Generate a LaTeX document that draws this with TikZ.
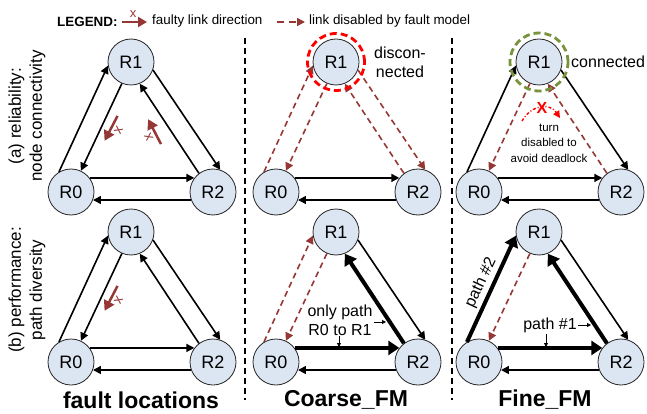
\documentclass[tikz,border=0pt]{standalone}
\usepackage{fontspec}
\setmainfont{Liberation Sans}
\usetikzlibrary{arrows.meta,calc}
\definecolor{nodefill}{HTML}{DCE6F2}
\definecolor{faultred}{HTML}{953735}
\definecolor{okgreen}{HTML}{77933C}
\newcommand{\drawtri}[7]{%
  \draw[#2] (#10.121) -- (#11.189);
  \draw[#3] (#11.247) -- (#10.65);
  \draw[#4] (#11.340) -- (#12.72);
  \draw[#5] (#12.127) -- (#11.292);
  \draw[#6] (#10.37) -- (#12.143);
  \draw[#7] (#12.200) -- (#10.340);
}
\newcommand{\faultglyph}[3]{%
  \begin{scope}[shift={(#1)},rotate=#2]
    \coordinate (#3a) at (-13,0);
    \coordinate (#3b) at (15,0);
    \draw[faultarrow] (#3a) -- (#3b);
    \node[xmark,rotate=#2] (#3x) at (-1,-7.5) {x};
  \end{scope}
}
\begin{document}
\begin{tikzpicture}[x=1pt,y=-1pt,
  router/.style={circle,draw=black!85,line width=0.8pt,fill=nodefill,minimum size=46pt,inner sep=0pt,font=\fontsize{18}{18}\selectfont},
  link/.style={draw=black,line width=1.6pt,-{Triangle[length=8pt,width=8pt]}},
  biglink/.style={draw=black,line width=4pt,-{Triangle[length=11pt,width=14pt]}},
  offlink/.style={draw=faultred,line width=1.6pt,dash pattern=on 6pt off 4pt,-{Triangle[length=8pt,width=8pt]}},
  faultarrow/.style={draw=faultred,line width=2.5pt,-{Triangle[length=10pt,width=11pt]}},
  xmark/.style={text=faultred,inner sep=0pt,font=\fontsize{14}{14}\selectfont},
  note/.style={inner sep=0pt,align=center,font=\fontsize{16}{19}\selectfont},
  small/.style={draw=black,line width=0.8pt,-{Triangle[length=4pt,width=4pt]}},
  title/.style={inner sep=0pt,font=\bfseries\fontsize{23}{23}\selectfont},
  side/.style={inner sep=0pt,rotate=90,align=center,font=\fontsize{17}{21}\selectfont},
  sep/.style={draw=black,line width=1.8pt,dash pattern=on 6pt off 4pt},
]
\useasboundingbox (0,0) rectangle (647,414);

% routers
\foreach \p/\dx/\dy in {a/0/0,b/205/0,c/408/0,d/0/170,e/205/170,f/408/170}{
  \node[router] (\p0) at (71+\dx,192+\dy) {R0};
  \node[router] (\p1) at (131+\dx,62+\dy) {R1};
  \node[router] (\p2) at (213+\dx,192+\dy) {R2};
}

% links
\drawtri{a}{link}{link}{link}{link}{link}{link}
\drawtri{b}{offlink}{offlink}{offlink}{offlink}{link}{link}
\drawtri{c}{link}{offlink}{link}{offlink}{link}{link}
\drawtri{d}{link}{link}{link}{link}{link}{link}
\drawtri{e}{offlink}{offlink}{link}{biglink}{biglink}{link}
\drawtri{f}{biglink}{offlink}{link}{biglink}{biglink}{link}

% connectivity rings
\node[circle,draw=red,line width=2.8pt,dash pattern=on 7pt off 4pt,minimum size=57pt,inner sep=0pt] (ring1) at (b1) {};
\node[circle,draw=okgreen,line width=2.8pt,dash pattern=on 7pt off 4pt,minimum size=58pt,inner sep=0pt] (ring2) at (c1) {};

% legend
\node[anchor=west,inner sep=0pt,font=\bfseries\fontsize{13.4}{14}\selectfont] (leg) at (57,22) {LEGEND:};
\coordinate (la1) at (122,22); \coordinate (la2) at (147,22);
\draw[faultarrow,line width=2.2pt,-{Triangle[length=9pt,width=10pt]}] (la1) -- (la2);
\node[xmark,font=\fontsize{13}{13}\selectfont] (lx) at (133,14) {x};
\node[anchor=west,inner sep=0pt,font=\fontsize{13.4}{14}\selectfont] (lt1) at (152,21) {faulty link direction};
\coordinate (lb1) at (277,22); \coordinate (lb2) at (305,22);
\draw[offlink,dash pattern=on 7pt off 5pt] (lb1) -- (lb2);
\node[anchor=west,inner sep=0pt,font=\fontsize{13.4}{14}\selectfont] (lt2) at (309,21) {link disabled by fault model};

% faulty link markers
\faultglyph{111.5,127.5}{242.5}{fa}
\faultglyph{155,132.5}{117.3}{fb}
\faultglyph{111.5,297.5}{242.5}{fc}

% separators
\coordinate (s1a) at (245,38); \coordinate (s1b) at (245,400);
\coordinate (s2a) at (452,38); \coordinate (s2b) at (452,400);
\draw[sep] (s1a) -- (s1b);
\draw[sep] (s2a) -- (s2b);

% side labels
\node[side] (rowa) at (27,116) {(a) reliability:\\node connectivity};
\node[side] (rowb) at (27,290) {(b) performance:\\path diversity};

% titles
\node[title] (t1) at (141,400) {fault locations};
\node[title] (t2) at (346,400) {Coarse\_FM};
\node[title] (t3) at (545,400) {Fine\_FM};

% notes top
\node[note] (disc) at (400,62) {discon-\\nected};
\node[note,anchor=west] (conn) at (571,62) {connected};
\node[inner sep=0pt,align=center,font=\fontsize{11.5}{15.5}\selectfont] (turn) at (549,143) {turn\\disabled to\\avoid deadlock};
\coordinate (tdA) at (522,121); \coordinate (tdB) at (560,118);
\draw[red,line width=1.4pt,dash pattern=on 3pt off 2pt on 1pt off 2pt,-{Triangle[length=7pt,width=7pt]}] (tdA) .. controls (532,104) and (550,103) .. (tdB);
\node[text=red,inner sep=0pt,font=\bfseries\fontsize{16}{16}\selectfont] (tx) at (542,108) {X};

% notes bottom
\node[note] (only) at (340,320.5) {only path\\R0 to R1};
\coordinate (oa1) at (374,322); \coordinate (oa2) at (386,322);
\draw[small] (oa1) -- (oa2);
\coordinate (ob1) at (339,336); \coordinate (ob2) at (339,347);
\draw[small] (ob1) -- (ob2);
\node[note] (pth1) at (550,325) {path \#1};
\coordinate (pa1) at (578,325); \coordinate (pa2) at (591,325);
\draw[small] (pa1) -- (pa2);
\coordinate (pb1) at (546,334); \coordinate (pb2) at (546,347);
\draw[small] (pb1) -- (pb2);
\node[note,rotate=65] (pth2) at (481,283) {path \#2};
\end{tikzpicture}
\end{document}
